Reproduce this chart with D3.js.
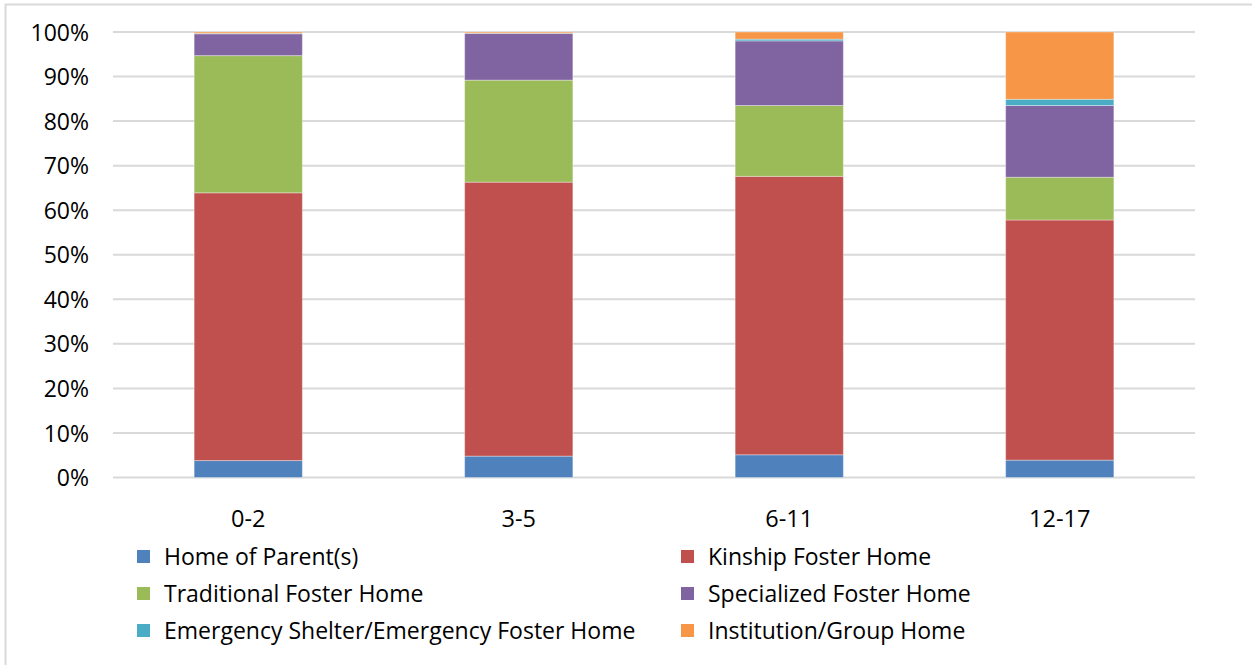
<!DOCTYPE html>
<html>
<head>
<meta charset="utf-8">
<script src="https://cdn.jsdelivr.net/npm/d3@7/dist/d3.min.js"></script>
<style>
  html, body { margin: 0; padding: 0; background: #fff; }
  svg { display: block; font-family: "Open Sans", Lato, sans-serif; }
</style>
</head>
<body>
<svg id="chart" width="1252" height="665"></svg>
<script>
// Placement type shares (%) by age group
const ageGroups = ["0-2", "3-5", "6-11", "12-17"];
const seriesNames = [
  "Home of Parent(s)",
  "Kinship Foster Home",
  "Traditional Foster Home",
  "Specialized Foster Home",
  "Emergency Shelter/Emergency Foster Home",
  "Institution/Group Home"
];
const homeOfParents     = [3.8, 4.8, 5.1, 3.9];
const kinshipFoster     = [60.1, 61.5, 62.5, 53.9];
const traditionalFoster = [30.8, 22.9, 15.9, 9.6];
const specializedFoster = [4.9, 10.5, 14.5, 16.1];
const emergencyShelter  = [0.1, 0.05, 0.4, 1.4];
const institutionGroup  = [0.3, 0.25, 1.6, 15.1];
const yTickValues = [0, 10, 20, 30, 40, 50, 60, 70, 80, 90, 100];
const colors = ["#4F81BD", "#C0504D", "#9BBB59", "#8064A2", "#4BACC6", "#F79646"];

const seriesValues = [homeOfParents, kinshipFoster, traditionalFoster,
                      specializedFoster, emergencyShelter, institutionGroup];

const rows = ageGroups.map((g, i) => {
  const r = { group: g };
  seriesNames.forEach((s, j) => { r[s] = seriesValues[j][i]; });
  return r;
});

const FONT = "'Open Sans', Lato, sans-serif";
const svg = d3.select("#chart");

// outer chart frame
svg.append("rect")
  .attr("x", 5.5).attr("y", 4.5)
  .attr("width", 1300).attr("height", 700)
  .attr("fill", "none").attr("stroke", "#D9D9D9").attr("stroke-width", 2);

const plot = { left: 113, right: 1195, top: 32, bottom: 477.5 };

const x = d3.scaleBand()
  .domain(ageGroups)
  .range([plot.left, plot.right])
  .paddingInner(0.6).paddingOuter(0.3);

const y = d3.scaleLinear().domain([0, 100]).range([plot.bottom, plot.top]);

// gridlines
svg.append("g")
  .selectAll("line")
  .data(yTickValues)
  .join("line")
  .attr("x1", plot.left).attr("x2", plot.right)
  .attr("y1", d => y(d)).attr("y2", d => y(d))
  .attr("stroke", "#D9D9D9").attr("stroke-width", 2);

// y axis labels
const yAxis = d3.axisLeft(y).tickValues(yTickValues).tickFormat(d => d + "%").tickSize(0).tickPadding(0);
const yg = svg.append("g").attr("transform", `translate(89,0)`).call(yAxis);
yg.select(".domain").remove();
yg.selectAll("text")
  .attr("font-family", FONT)
  .attr("font-size", 23).attr("fill", "#000").attr("dy", "0.35em");

// stacked bars
const stack = d3.stack().keys(seriesNames);
const layers = stack(rows);

svg.append("g")
  .selectAll("g")
  .data(layers)
  .join("g")
  .attr("fill", (d, i) => colors[i])
  .selectAll("rect")
  .data(d => d)
  .join("rect")
  .attr("x", d => x(d.data.group))
  .attr("width", x.bandwidth())
  .attr("y", d => y(d[1]))
  .attr("height", d => Math.max(0, y(d[0]) - y(d[1])))
  .attr("stroke", "#ffffff").attr("stroke-opacity", 0.35).attr("stroke-width", 1);

// x axis labels
const xAxis = d3.axisBottom(x).tickSize(0).tickPadding(0);
const xg = svg.append("g").attr("transform", `translate(0,${plot.bottom + 49})`).call(xAxis);
xg.select(".domain").remove();
xg.selectAll("text")
  .attr("font-family", FONT)
  .attr("font-size", 23.5).attr("fill", "#000").attr("dy", "0");

// legend: two columns, three rows
const legendCols = [137, 681];
const legendRows = [557, 594, 631];
const legend = svg.append("g")
  .selectAll("g")
  .data(seriesNames)
  .join("g")
  .attr("transform", (d, i) => `translate(${legendCols[i % 2]},${legendRows[Math.floor(i / 2)]})`);

legend.append("rect")
  .attr("x", 0).attr("y", -7).attr("width", 13).attr("height", 13)
  .attr("fill", (d, i) => colors[i]);

legend.append("text")
  .attr("x", 27).attr("y", 0).attr("dy", "0.35em")
  .attr("font-family", FONT)
  .attr("font-size", 23).attr("fill", "#000")
  .text(d => d);
</script>
</body>
</html>
